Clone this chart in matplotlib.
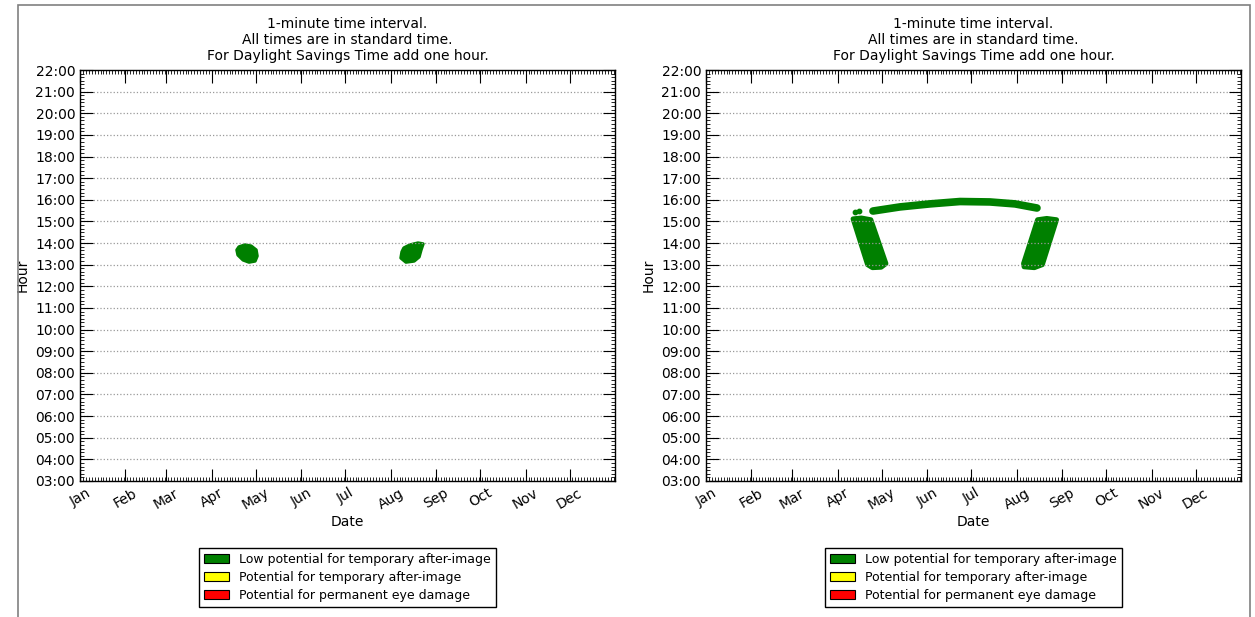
import matplotlib
matplotlib.use('Agg')
import matplotlib.pyplot as plt
from matplotlib.patches import Rectangle, Polygon
from matplotlib.ticker import FixedLocator, MultipleLocator, FuncFormatter

# Miesiące (dzień roku początku miesiąca)
month_names = ['Jan', 'Feb', 'Mar', 'Apr', 'May', 'Jun', 'Jul', 'Aug', 'Sep', 'Oct', 'Nov', 'Dec']
month_start = [0, 31, 59, 90, 120, 151, 181, 212, 243, 273, 304, 334]

title_text = "1-minute time interval.\nAll times are in standard time.\nFor Daylight Savings Time add one hour."
legend_labels = ['Low potential for temporary after-image',
                 'Potential for temporary after-image',
                 'Potential for permanent eye damage']
legend_colors = ['green', 'yellow', 'red']

# Lewy wykres - dwa skupiska punktow (dzien roku, godzina)
left_blob1_day = [108.5, 112.6, 116.7, 120.1, 120.8, 119.4, 115.3, 111.3, 107.8, 107.1]
left_blob1_hour = [13.82, 13.91, 13.86, 13.68, 13.40, 13.17, 13.12, 13.22, 13.45, 13.68]
left_blob2_day = [221.0, 225.1, 230.6, 234.0, 232.6, 231.3, 227.9, 222.4, 219.0, 219.7]
left_blob2_hour = [13.77, 13.91, 14.00, 13.96, 13.68, 13.36, 13.17, 13.12, 13.31, 13.59]

# Prawy wykres - luk popoludniowy
arc_day = [113.9, 132.3, 152.8, 173.3, 193.7, 210.8, 225.8]
arc_hour = [15.48, 15.67, 15.81, 15.92, 15.90, 15.81, 15.62]
arc_tip_day = [101.7, 104.5]
arc_tip_hour = [15.43, 15.48]

# Prawy wykres - pasy ukosne
band1_day = [100.3, 106.0, 112.5, 122.8, 119.5, 113.5, 110.2]
band1_hour = [15.12, 15.16, 15.08, 13.05, 12.88, 12.86, 13.00]
band2_day = [226.2, 232.5, 239.2, 229.5, 224.0, 217.0, 216.6]
band2_hour = [15.08, 15.14, 15.08, 13.00, 12.86, 12.90, 13.05]

fig = plt.figure(figsize=(12.55, 6.17), dpi=100)
W, H = 1255.0, 617.0

# ramka zrzutu ekranu
fig.patches.append(Rectangle((18 / W, -0.1), (1250 - 18) / W, 1.1 - 5 / H,
                             transform=fig.transFigure, fill=False,
                             edgecolor='#808080', lw=1.2))

ax1 = fig.add_axes([80 / W, 1 - 481 / H, 535 / W, 411 / H])
ax2 = fig.add_axes([706 / W, 1 - 481 / H, 535 / W, 411 / H])


def hour_fmt(v, pos):
    return '%02d:00' % int(round(v))


for ax in (ax1, ax2):
    ax.set_xlim(0, 365)
    ax.set_ylim(3, 22)
    ax.xaxis.set_major_locator(FixedLocator(month_start))
    ax.set_xticklabels(month_names, rotation=30, ha='center', fontsize=10)
    ax.xaxis.set_minor_locator(MultipleLocator(2))
    ax.yaxis.set_major_locator(MultipleLocator(1))
    ax.yaxis.set_minor_locator(MultipleLocator(1 / 6.))
    ax.yaxis.set_major_formatter(FuncFormatter(hour_fmt))
    ax.tick_params(axis='both', which='both', direction='in', top=True, right=True,
                   labelsize=10, colors='black')
    ax.tick_params(axis='both', which='major', length=9, width=0.8)
    ax.tick_params(axis='both', which='minor', length=3, width=0.6)
    ax.grid(axis='y', which='major', linestyle=':', color='#999999', lw=0.9)
    for s in ax.spines.values():
        s.set_linewidth(1.0)
    ax.set_xlabel('Date', fontsize=10, labelpad=2)
    ax.set_ylabel('Hour', fontsize=10, labelpad=4)
    ax.set_title(title_text, fontsize=10, linespacing=1.2, pad=7)
    handles = [Rectangle((0, 0), 1, 1, facecolor=c, edgecolor='black', lw=0.8)
               for c in legend_colors]
    ax.legend(handles, legend_labels, loc='upper center', bbox_to_anchor=(0.5, -0.162),
              fontsize=9, frameon=True, fancybox=False, edgecolor='black',
              handlelength=2.0, handleheight=0.75, labelspacing=0.42,
              borderaxespad=0, framealpha=1)

green = '#008000'

# lewy wykres
for d, h in ((left_blob1_day, left_blob1_hour), (left_blob2_day, left_blob2_hour)):
    ax1.add_patch(Polygon(list(zip(d, h)), closed=True, facecolor=green,
                          edgecolor=green, lw=2.5, joinstyle='round'))

# prawy wykres
ax2.plot(arc_day, arc_hour, color=green, lw=5.5, solid_capstyle='round')
ax2.scatter(arc_tip_day, arc_tip_hour, color=green, s=10)
for d, h in ((band1_day, band1_hour), (band2_day, band2_hour)):
    ax2.add_patch(Polygon(list(zip(d, h)), closed=True, facecolor=green,
                          edgecolor=green, lw=3.5, joinstyle='round'))

fig.savefig('out.png', dpi=100)
